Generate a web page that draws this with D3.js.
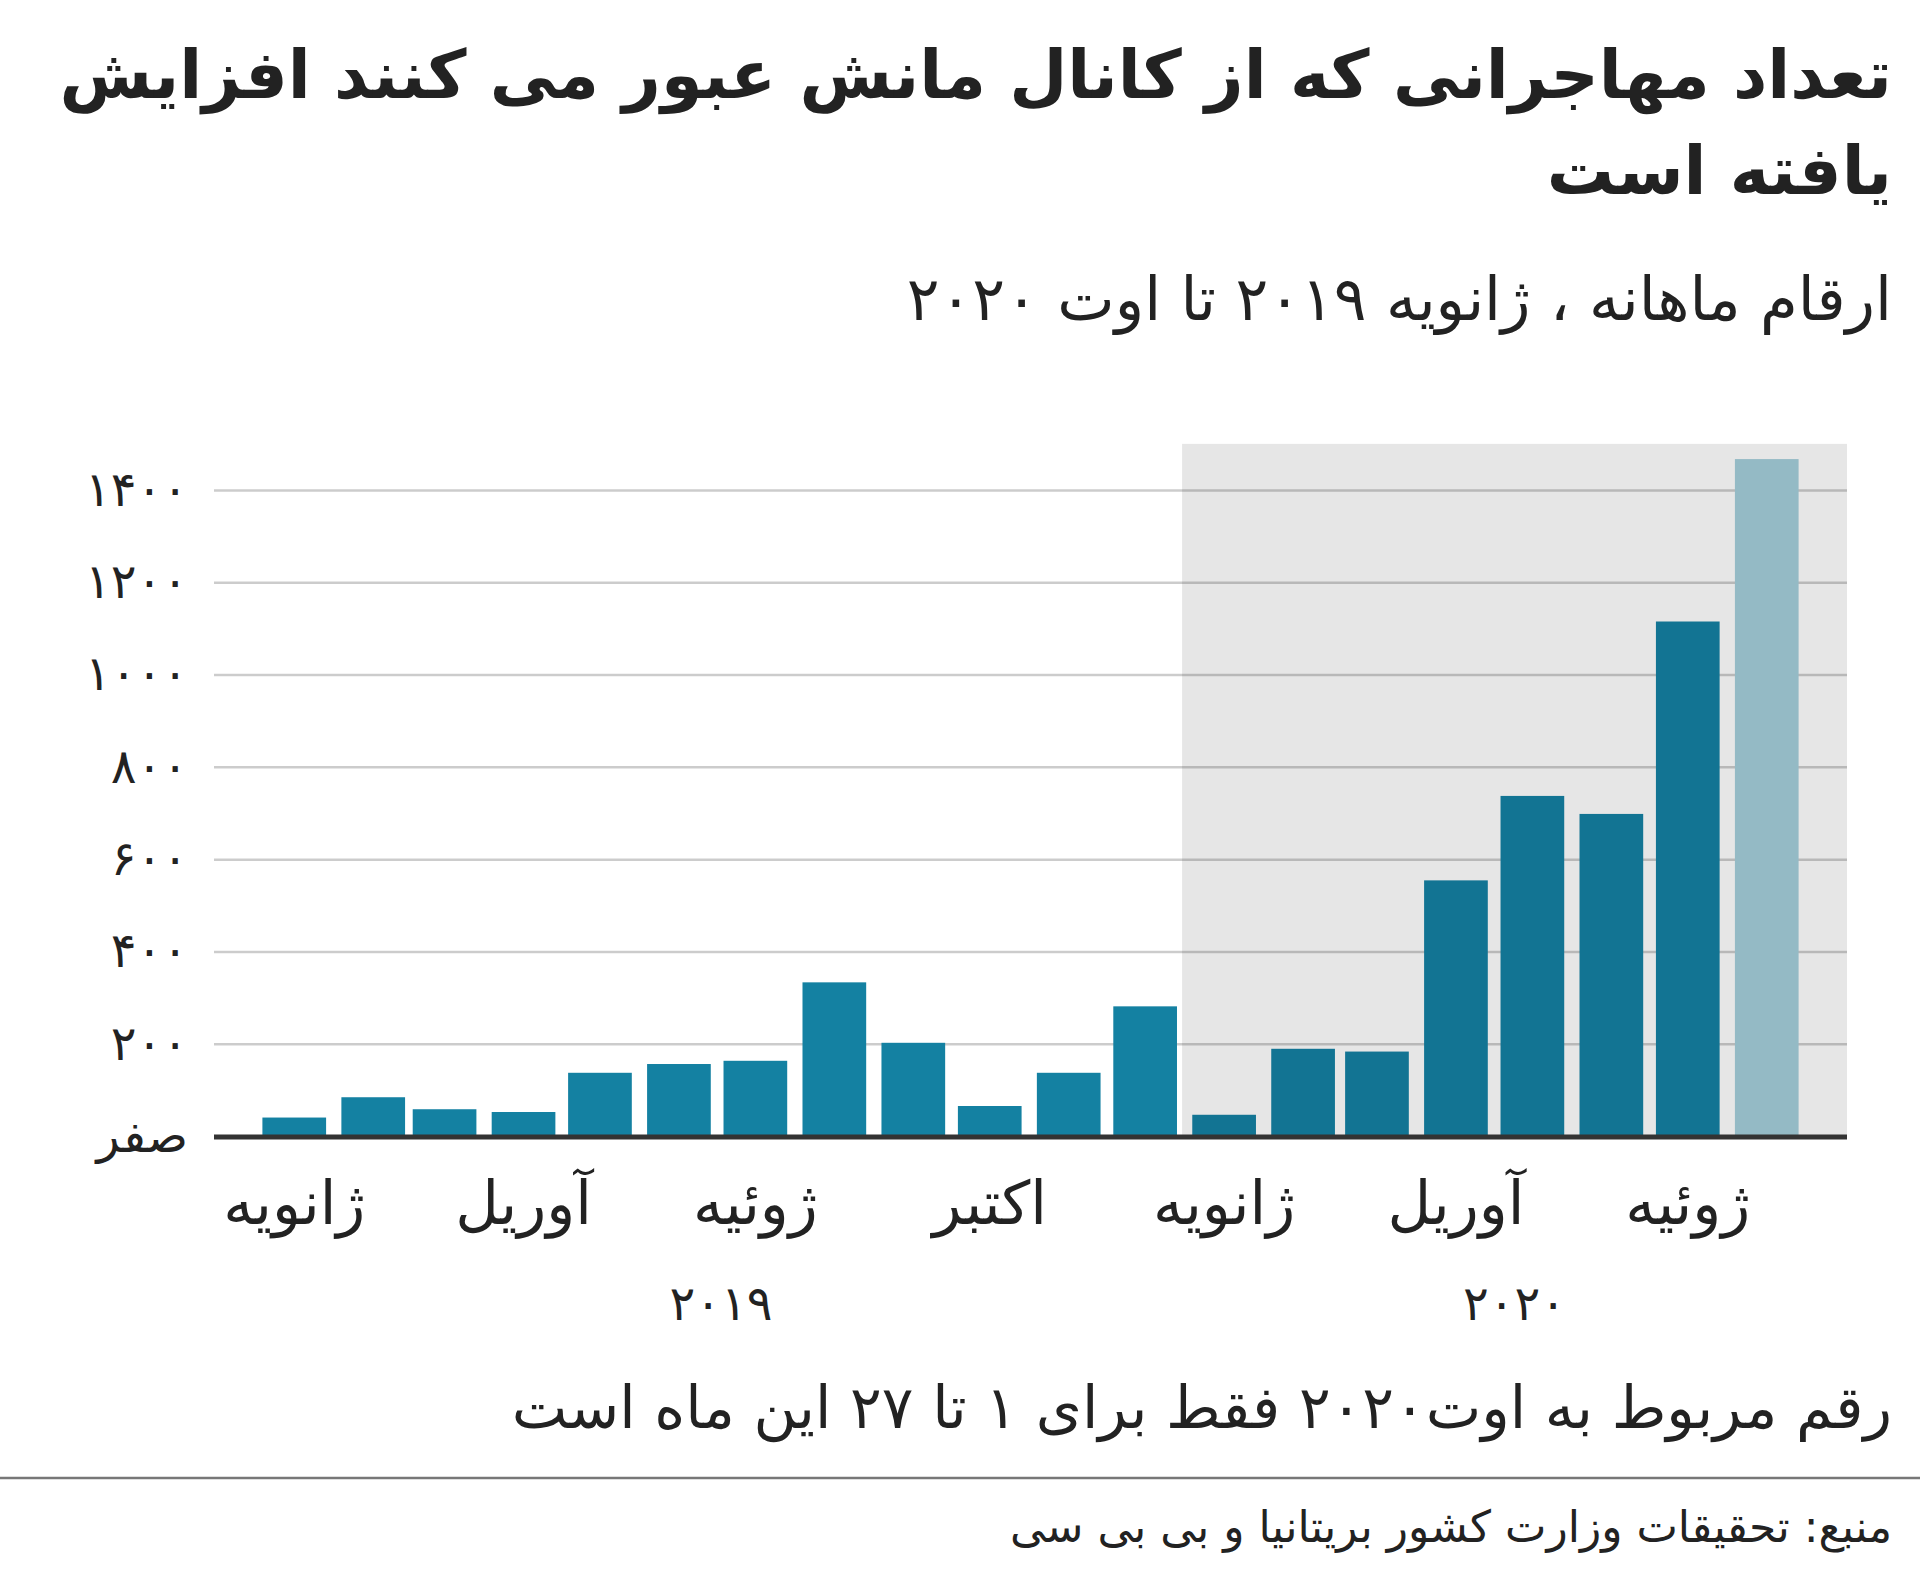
<!DOCTYPE html>
<html><head><meta charset="utf-8">
<script src="https://cdn.jsdelivr.net/npm/d3@7"></script>
<style>
html,body{margin:0;padding:0;background:#fff;}
text{font-family:"DejaVu Sans","Noto Sans",sans-serif;fill:#222;}
</style></head>
<body>
<svg id="chart" width="1920" height="1578"></svg>
<script>
// ---- data ----
const months = ["2019-01-01","2019-02-01","2019-03-01","2019-04-01","2019-05-01","2019-06-01","2019-07-01","2019-08-01","2019-09-01","2019-10-01","2019-11-01","2019-12-01","2020-01-01","2020-02-01","2020-03-01","2020-04-01","2020-05-01","2020-06-01","2020-07-01","2020-08-01"];
const crossings = [40,84,58,52,137,156,163,333,202,65,137,281,46,189,183,554,737,698,1115,1467];
const barGroup = ["2019","2019","2019","2019","2019","2019","2019","2019","2019","2019","2019","2019","2020","2020","2020","2020","2020","2020","2020","partial"];
const yTickValues = [0,200,400,600,800,1000,1200,1400];
const yTickLabels = ["صفر","۲۰۰","۴۰۰","۶۰۰","۸۰۰","۱۰۰۰","۱۲۰۰","۱۴۰۰"];
const xLabelMonths = ["2019-01-01","2019-04-01","2019-07-01","2019-10-01","2020-01-01","2020-04-01","2020-07-01"];
const xLabelTexts = ["ژانویه","آوریل","ژوئیه","اکتبر","ژانویه","آوریل","ژوئیه"];
const yearLabels = ["۲۰۱۹","۲۰۲۰"];
const yearSpans = [["2019-01-01","2019-12-27"],["2019-12-28","2020-09-14"]];
const shadeRange = ["2019-12-28","2020-09-14"];
const shadeTop = 1500;
const xDomain = ["2018-12-13","2020-09-14"];
const title = ["تعداد مهاجرانی که از کانال مانش عبور می کنند افزایش","یافته است"];
const subtitle = "ارقام ماهانه ، ژانویه ۲۰۱۹ تا اوت ۲۰۲۰";
const note = "رقم مربوط به اوت۲۰۲۰ فقط برای ۱ تا ۲۷ این ماه است";
const source = "منبع: تحقیقات وزارت کشور بریتانیا و بی بی سی";

// ---- layout ----
const W = 1920, H = 1578;
const mLeft = 214, mRight = 1847, mTop = 490, mBottom = 1136;
const parse = d3.utcParse("%Y-%m-%d");
const colors = {"2019":"#1481a2","2020":"#127493","partial":"#94bac5"};

const svg = d3.select("#chart");
svg.append("rect").attr("width",W).attr("height",H).attr("fill","#fff");

const x = d3.scaleUtc().domain(xDomain.map(parse)).range([mLeft,mRight]);
const y = d3.scaleLinear().domain([0,1400]).range([mBottom,mTop]);
const barEnd = d => d3.utcDay.offset(d,25);

// shaded 2020 region
svg.append("rect")
  .attr("x",x(parse(shadeRange[0])))
  .attr("width",x(parse(shadeRange[1]))-x(parse(shadeRange[0])))
  .attr("y",y(shadeTop))
  .attr("height",y(0)-y(shadeTop))
  .attr("fill","#e6e6e6");

// gridlines
const grid = svg.append("g").attr("transform",`translate(${mLeft},0)`)
  .call(d3.axisRight(y).tickValues(yTickValues.filter(v=>v>0)).tickSize(mRight-mLeft).tickFormat(""));
grid.select(".domain").remove();
grid.selectAll("line").attr("stroke","rgba(0,0,0,0.2)").attr("stroke-width",2.5);

// y labels
const yAxis = svg.append("g").attr("transform",`translate(${mLeft},0)`)
  .call(d3.axisLeft(y).tickValues(yTickValues).tickSize(0).tickPadding(26)
    .tickFormat((d,i)=>yTickLabels[i]));
yAxis.select(".domain").remove();
yAxis.selectAll("text").attr("font-size",48).attr("fill","#222")
  .attr("font-family","DejaVu Sans");

// bars
const data = months.map((m,i)=>({date:parse(m),v:crossings[i],g:barGroup[i]}));
svg.append("g").selectAll("rect").data(data).join("rect")
  .attr("x",d=>x(d.date))
  .attr("width",d=>x(barEnd(d.date))-x(d.date))
  .attr("y",d=>y(d.v))
  .attr("height",d=>y(0)-y(d.v))
  .attr("fill",d=>colors[d.g]);

// baseline
svg.append("line").attr("x1",mLeft).attr("x2",mRight).attr("y1",y(0)+1).attr("y2",y(0)+1)
  .attr("stroke","#333").attr("stroke-width",5);

// x axis month labels
const xl = svg.append("g");
xl.selectAll("text").data(xLabelMonths).join("text")
  .attr("x",d=>{const t=parse(d);return (x(t)+x(barEnd(t)))/2;})
  .attr("y",1224)
  .attr("text-anchor","middle")
  .attr("font-size",60)
  .text((d,i)=>xLabelTexts[i]);

// year labels
svg.append("g").selectAll("text").data(yearSpans).join("text")
  .attr("x",d=>(x(parse(d[0]))+x(parse(d[1])))/2)
  .attr("y",1320)
  .attr("text-anchor","middle")
  .attr("font-size",48)
  .text((d,i)=>yearLabels[i]);

// titles
const rx = 1892;
svg.append("g").selectAll("text").data(title).join("text")
  .attr("x",rx).attr("y",(d,i)=>98+i*96)
  .attr("direction","rtl").attr("text-anchor","start")
  .attr("font-size",67).attr("font-weight","bold")
  .text(d=>d);
svg.append("text").attr("x",rx).attr("y",320)
  .attr("direction","rtl").attr("text-anchor","start")
  .attr("font-size",61).text(subtitle);
svg.append("text").attr("x",rx).attr("y",1428)
  .attr("direction","rtl").attr("text-anchor","start")
  .attr("font-size",59).text(note);
svg.append("line").attr("x1",0).attr("x2",W).attr("y1",1478).attr("y2",1478)
  .attr("stroke","#777").attr("stroke-width",2.5);
svg.append("text").attr("x",rx).attr("y",1542)
  .attr("direction","rtl").attr("text-anchor","start")
  .attr("font-size",44).text(source);
</script>
</body></html>
